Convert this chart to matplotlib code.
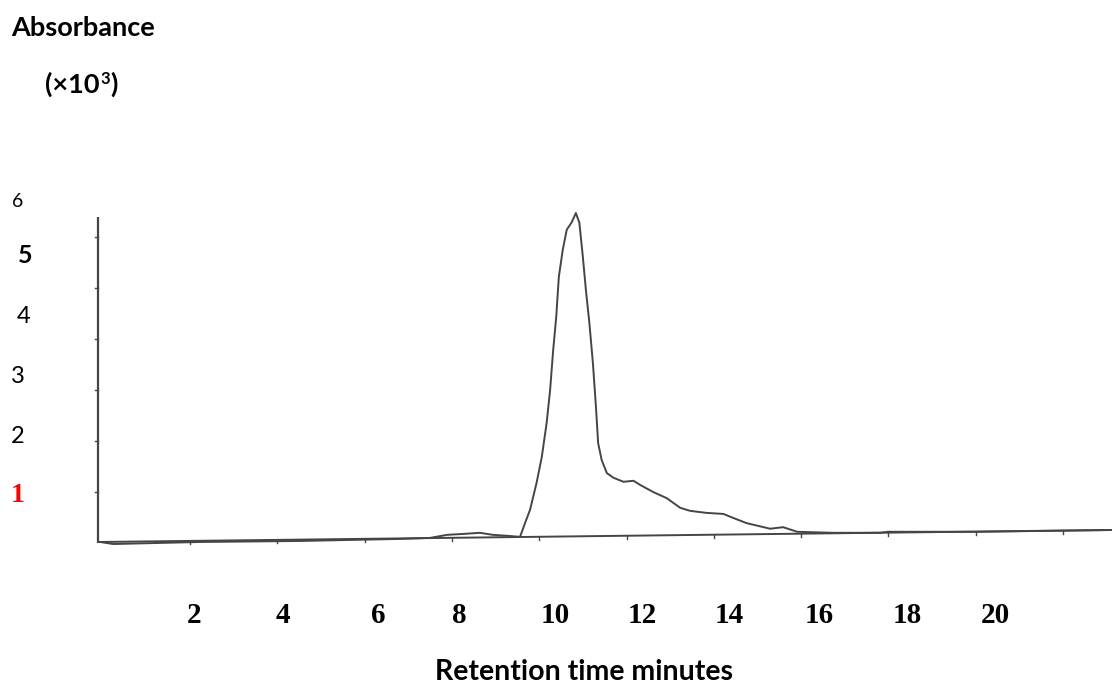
import numpy as np
import matplotlib
matplotlib.use("Agg")
import matplotlib.pyplot as plt

# ---------------- data ----------------
# chromatogram trace: retention time (min) vs absorbance (x10^3)
time_min = [-0.06, 0.24, 2.23, 4.52, 6.81, 7.50, 7.89, 8.30, 8.64, 8.94, 9.29,
            9.56, 9.675, 9.79, 9.94, 10.06, 10.17, 10.25, 10.32, 10.39, 10.45,
            10.54, 10.63, 10.745, 10.84, 10.92, 11.00, 11.07, 11.15, 11.23,
            11.30, 11.35, 11.43, 11.55, 11.70, 11.93, 12.16, 12.31, 12.61,
            12.92, 13.23, 13.46, 13.84, 14.22, 14.45, 14.75, 15.29, 15.59,
            15.91, 16.73, 17.81, 17.99, 20.0, 23.12]
absorbance = [0.02, -0.02, 0.02, 0.04, 0.08, 0.10, 0.16, 0.18, 0.20, 0.16, 0.14,
              0.12, 0.39, 0.65, 1.18, 1.69, 2.35, 3.00, 3.78, 4.43, 5.22,
              5.75, 6.14, 6.29, 6.47, 6.28, 5.61, 4.96, 4.31, 3.53,
              2.67, 1.96, 1.63, 1.37, 1.28, 1.20, 1.22, 1.14, 1.00,
              0.88, 0.69, 0.63, 0.59, 0.57, 0.49, 0.39, 0.28, 0.31,
              0.22, 0.20, 0.20, 0.22, 0.22, 0.255]

# straight recorder baseline
baseline_t = [-0.06, 23.12]
baseline_y = [0.02, 0.255]

# tick marks printed on the scan
x_tick_minutes = [2, 4, 6, 8, 10, 12, 14, 16, 18, 20, 22]
y_tick_values = [1, 2, 3, 4, 5, 6]
y_axis_top = 6.39

# overlaid text labels
x_labels = ["2", "4", "6", "8", "10", "12", "14", "16", "18", "20"]
y_labels = ["6", "5", "4", "3", "2", "1"]

# ---------------- figure ----------------
W, H = 1112, 686
fig = plt.figure(figsize=(W / 100, H / 100), dpi=100)
fig.patch.set_facecolor("white")

# one axes covering the figure; data units map linearly to pixels
ax = fig.add_axes([0, 0, 1, 1])
ax.set_axis_off()
px0, px_per_min = 102.7, 43.65
py0, px_per_unit = 543.0, 51.0
ax.set_xlim((0 - px0) / px_per_min, (W - px0) / px_per_min)
ax.set_ylim((py0 - H) / px_per_unit, py0 / px_per_unit)

line_col = "#454545"
# y axis line
x_axis_pos = -0.105
ax.plot([x_axis_pos, x_axis_pos], [0.0, y_axis_top], color=line_col, lw=1.6,
        solid_capstyle="butt")
for v in y_tick_values:
    ax.plot([x_axis_pos - 0.07, x_axis_pos], [v, v], color=line_col, lw=1.0)

# baseline
ax.plot(baseline_t, baseline_y, color=line_col, lw=1.4)
for t in x_tick_minutes:
    yb = np.interp(t, baseline_t, baseline_y)
    ax.plot([t, t], [yb, yb - 0.07], color=line_col, lw=1.0)

# trace
ax.plot(time_min, absorbance, color=line_col, lw=1.4, solid_joinstyle="round")


def fx(px):
    return px / W


def fy(py):
    return 1 - py / H


sans = "Lato"
serif = "Liberation Serif"

fig.text(fx(11), fy(36), "Absorbance", fontfamily=sans, fontweight="bold",
         fontsize=19.5, ha="left", va="baseline")

# "(×10³)" built from pieces so the superscript sits like the original
fig.canvas.draw()
renderer = fig.canvas.get_renderer()
t1 = fig.text(fx(45), fy(93), "(×10", fontfamily=sans, fontweight="bold",
              fontsize=19.5, ha="left", va="baseline")
x_end = t1.get_window_extent(renderer).x1
t2 = fig.text(x_end / W + 0.5 / W, fy(84), "3", fontfamily=sans,
              fontweight="bold", fontsize=12, ha="left", va="baseline")
x_end2 = t2.get_window_extent(renderer).x1
fig.text(x_end2 / W + 0.5 / W, fy(93), ")", fontfamily=sans, fontweight="bold",
         fontsize=19.5, ha="left", va="baseline")

# y labels (overlaid, individually styled)
y_label_style = [
    dict(px=12, py=207, size=14, weight="normal", family=sans, color="black"),
    dict(px=18, py=263, size=18, weight="bold", family=sans, color="black"),
    dict(px=17, py=323, size=17, weight="normal", family=sans, color="black"),
    dict(px=11, py=383, size=17, weight="normal", family=sans, color="black"),
    dict(px=11, py=443, size=17, weight="normal", family=sans, color="black"),
    dict(px=11, py=502, size=20, weight="bold", family=serif, color="#ff0000"),
]
for lab, st in zip(y_labels, y_label_style):
    fig.text(fx(st["px"]), fy(st["py"]), lab, fontfamily=st["family"],
             fontweight=st["weight"], fontsize=st["size"], color=st["color"],
             ha="left", va="baseline")

x_label_px = [194.5, 282.5, 378, 459, 555, 642.5, 729, 819, 907, 995]
for lab, px in zip(x_labels, x_label_px):
    fig.text(fx(px), fy(623), lab, fontfamily=serif, fontweight="bold",
             fontsize=21, ha="center", va="baseline")

fig.text(fx(584), fy(680), "Retention time minutes", fontfamily=sans,
         fontweight="bold", fontsize=20.5, ha="center", va="baseline")

fig.savefig("out.png", dpi=100, facecolor="white")
